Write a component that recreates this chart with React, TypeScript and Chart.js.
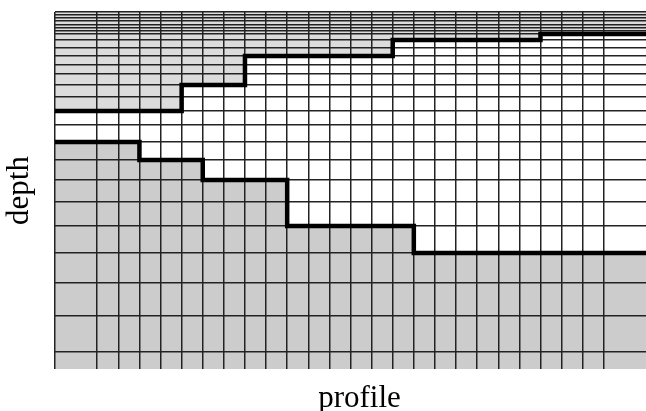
import React, { useEffect, useRef } from "react";
import { Chart, registerables } from "chart.js";

Chart.register(...registerables);

// Column boundaries along the profile (grid units)
const profileLines = [0, 2, 3, 4, 5, 6, 7, 8, 9, 10, 11, 12, 13, 14, 15, 16, 17, 18, 19, 20, 21, 22, 23, 24, 25, 26];
const profileMax = 28;

// Layer boundaries in depth (denser near the surface)
const depthLines = [0, 3, 6, 9, 12.5, 16, 19, 22, 28, 35.5, 44, 53, 62, 73, 85, 99, 113, 130, 148, 168, 190, 214, 241, 271, 304, 340];
const depthMax = 357;

// Upper thick boundary (step line)
const upperX = [0, 6, 9, 16, 23, 28];
const upperDepth = [99, 73, 44, 28, 22, 22];

// Lower thick boundary (step line)
const lowerX = [0, 4, 7, 11, 17, 28];
const lowerDepth = [130, 148, 168, 214, 241, 241];

const xTitle = "profile";
const yTitle = "depth";

export default function App() {
  const ref = useRef<HTMLCanvasElement | null>(null);

  useEffect(() => {
    document.body.style.margin = "0";
    const canvas = ref.current;
    if (!canvas) return;

    const titlePlugin = {
      id: "axisTitles",
      afterDraw(chart: any) {
        const ctx = chart.ctx;
        const area = chart.chartArea;
        ctx.save();
        ctx.fillStyle = "#000";
        ctx.font = '31px "Liberation Serif", "DejaVu Serif", serif';
        ctx.textAlign = "center";
        ctx.textBaseline = "alphabetic";
        ctx.fillText(xTitle, (area.left + area.right) / 2 + 9, 407);
        ctx.translate(28, (area.top + area.bottom) / 2);
        ctx.rotate(-Math.PI / 2);
        ctx.fillText(yTitle, 0, 0);
        ctx.restore();
      },
    };

    const chart = new Chart(canvas, {
      type: "line",
      data: {
        datasets: [
          {
            label: "upper",
            data: upperX.map((x, i) => ({ x, y: upperDepth[i] })),
            borderColor: "#000",
            borderWidth: 4.5,
            pointRadius: 0,
            stepped: "before",
            fill: "end",
            backgroundColor: "#dcdcdc",
            borderCapStyle: "butt",
            borderJoinStyle: "miter",
          },
          {
            label: "lower",
            data: lowerX.map((x, i) => ({ x, y: lowerDepth[i] })),
            borderColor: "#000",
            borderWidth: 4.5,
            pointRadius: 0,
            stepped: "before",
            fill: "start",
            backgroundColor: "#cccccc",
            borderCapStyle: "butt",
            borderJoinStyle: "miter",
          },
        ],
      },
      options: {
        animation: false,
        responsive: false,
        layout: { padding: { left: 55, top: 12, right: -2, bottom: 42 } },
        plugins: {
          legend: { display: false },
          tooltip: { enabled: false },
          filler: { drawTime: "beforeDraw" },
        },
        scales: {
          x: {
            type: "linear",
            min: 0,
            max: profileMax,
            afterBuildTicks: (scale: any) => {
              scale.ticks = profileLines.map((v) => ({ value: v }));
            },
            ticks: { display: false },
            grid: { color: "#222", lineWidth: 1.5, drawTicks: false },
            border: { display: false },
          },
          y: {
            type: "linear",
            reverse: true,
            min: 0,
            max: depthMax,
            afterBuildTicks: (scale: any) => {
              scale.ticks = depthLines.map((v) => ({ value: v }));
            },
            ticks: { display: false },
            grid: { color: "#222", lineWidth: 1.5, drawTicks: false },
            border: { display: false },
          },
        },
      },
      plugins: [titlePlugin],
    });

    return () => chart.destroy();
  }, []);

  return (
    <canvas
      ref={ref}
      width={646}
      height={411}
      style={{ display: "block", width: "646px", height: "411px" }}
    />
  );
}
